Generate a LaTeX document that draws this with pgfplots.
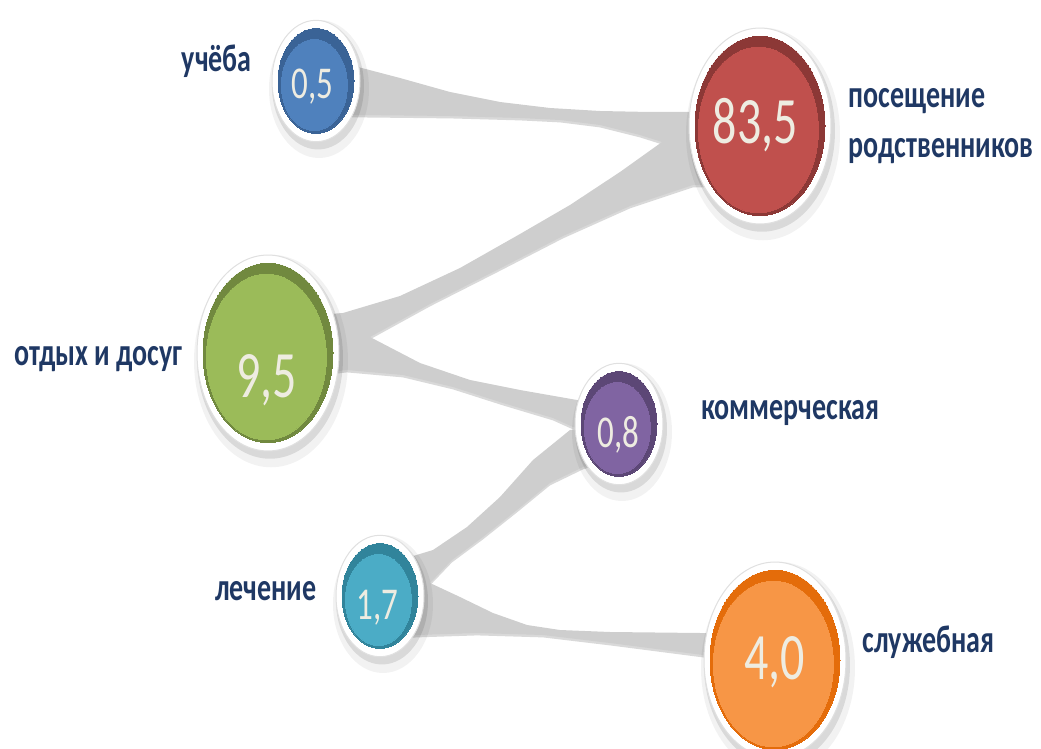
\documentclass[border=0pt]{standalone}
\usepackage{fontspec}
\setmainfont{Carlito}
\usepackage{graphicx}
\usepackage{pgfplots}
\pgfplotsset{compat=1.18}

\definecolor{cBlue}{HTML}{4F81BD}\definecolor{cBlueD}{HTML}{3A6396}
\definecolor{cRed}{HTML}{C0504D}\definecolor{cRedD}{HTML}{8C3836}
\definecolor{cGreen}{HTML}{9BBB59}\definecolor{cGreenD}{HTML}{71893F}
\definecolor{cPurple}{HTML}{8064A2}\definecolor{cPurpleD}{HTML}{5C4776}
\definecolor{cTeal}{HTML}{4BACC6}\definecolor{cTealD}{HTML}{31849B}
\definecolor{cOrange}{HTML}{F79646}\definecolor{cOrangeD}{HTML}{E46C0A}
\definecolor{cNavy}{HTML}{1F3864}
\definecolor{cCream}{HTML}{EEECE1}
\definecolor{cLink}{HTML}{CECECE}

\newcommand{\lab}{\bfseries\fontsize{14}{16}\selectfont}
\newcommand{\bigv}{\fontsize{24}{26}\selectfont}
\newcommand{\smallv}{\fontsize{16.5}{18}\selectfont}

% one bubble: x, y, radius (pt), fill, rim, value, value node style
\newcommand{\bubble}[7]{%
  \addplot[only marks, mark=*, mark size=#3+3,
    mark options={draw opacity=0, fill=black, fill opacity=0.05, xshift=1.5pt, yshift=-4pt, yscale=1.38}]
    coordinates {(#1,#2)};
  \addplot[only marks, mark=*, mark size=#3+1,
    mark options={draw opacity=0, fill=black, fill opacity=0.10, xshift=1pt, yshift=-2.5pt, yscale=1.38}]
    coordinates {(#1,#2)};
  \addplot[only marks, mark=*, mark size=#3,
    mark options={draw=black!12, line width=0.5pt, fill=white, yscale=1.38}]
    coordinates {(#1,#2)};
  \addplot[only marks, mark=*, mark size=#3-3,
    mark options={draw=#5, line width=0pt, fill=#5, yscale=1.38}]
    coordinates {(#1,#2)};
  \addplot[only marks, mark=*, mark size=#3-5.5,
    mark options={draw=#4, line width=0pt, fill=#4, xshift=-0.8pt, yshift=-2pt, yscale=1.38},
    point meta=explicit symbolic,
    nodes near coords={\scalebox{1}[1.38]{\pgfplotspointmeta}},
    every node near coord/.style={anchor=base, text=cCream, inner sep=0pt, #7}]
    coordinates {(#1,#2) [#6]};
}

% one connector: shadow then band
\newcommand{\link}[1]{%
  \addplot[draw=none, fill=black!60, fill opacity=0.25, yshift=-1.2pt] coordinates {#1};
  \addplot[draw=none, fill=cLink] coordinates {#1};
}

\begin{document}
\begin{tikzpicture}
\useasboundingbox (0,0) rectangle (520.5pt,374.5pt);
\begin{axis}[
  width=520.5pt, height=374.5pt, scale only axis,
  xmin=0, xmax=1041, ymin=0, ymax=749, y dir=reverse,
  hide axis, clip=false,
]
% connectors
\link{(330,66) (358,67) (400,78) (450,92) (500,102) (550,108) (600,111) (650,112) (720,112)
  (720,142) (662,142) (640,135) (600,125) (560,120) (520,118) (450,116) (358,115) (330,115)}
\link{(330,314) (343,313) (400,296) (460,268) (520,234) (570,205) (620,172) (662,142) (720,128)
  (720,185) (693,185) (630,206) (563,236) (497,270) (430,304) (370,337) (330,345)}
\link{(330,335) (370,337) (420,363) (470,380) (520,390) (577,400) (610,405)
  (610,432) (573,427) (553,418) (503,403) (453,387) (403,375) (347,370) (330,372)}
\link{(605,425) (570,430) (533,460) (500,497) (467,527) (433,550) (400,560)
  (400,590) (430,583) (452,560) (483,537) (517,510) (550,483) (583,467) (605,460)}
\link{(400,585) (430,583) (460,597) (493,613) (527,625) (560,630) (610,632) (700,633) (730,633)
  (730,660) (703,655) (610,643) (543,635) (477,633) (417,635) (400,636)}

% bubbles with their values
\bubble{316}{81}{22}{cBlue}{cBlueD}{0,5}{font=\smallv, xshift=-1pt, yshift=-7pt}
\bubble{760}{126}{35.5}{cRed}{cRedD}{83,5}{font=\bigv, xshift=-1.5pt, yshift=-7pt}
\bubble{268}{353}{35.5}{cGreen}{cGreenD}{9,5}{font=\bigv, yshift=-20pt}
\bubble{619}{424}{22}{cPurple}{cPurpleD}{0,8}{font=\smallv, xshift=0.5pt, yshift=-9.5pt}
\bubble{380}{596}{22}{cTeal}{cTealD}{1,7}{font=\smallv, xshift=-0.5pt, yshift=-9.5pt}
\bubble{775}{660}{35.5}{cOrange}{cOrangeD}{4,0}{font=\bigv, xshift=0.5pt, yshift=-7.5pt}

% labels
\begin{scope}[every node/.style={text=cNavy, font=\lab, inner sep=0pt}]
\node[anchor=base east] at (axis cs:252,72) {\scalebox{1}[1.38]{учёба}};
\node[anchor=base west] at (axis cs:848,108) {\scalebox{1}[1.38]{посещение}};
\node[anchor=base west] at (axis cs:848,158) {\scalebox{1}[1.38]{родственников}};
\node[anchor=base east] at (axis cs:183,365) {\scalebox{1}[1.38]{отдых и досуг}};
\node[anchor=base west] at (axis cs:701,419) {\scalebox{1}[1.38]{коммерческая}};
\node[anchor=base east] at (axis cs:317,600) {\scalebox{1}[1.38]{лечение}};
\node[anchor=base west] at (axis cs:862,652) {\scalebox{1}[1.38]{служебная}};
\end{scope}
\end{axis}
\end{tikzpicture}
\end{document}
